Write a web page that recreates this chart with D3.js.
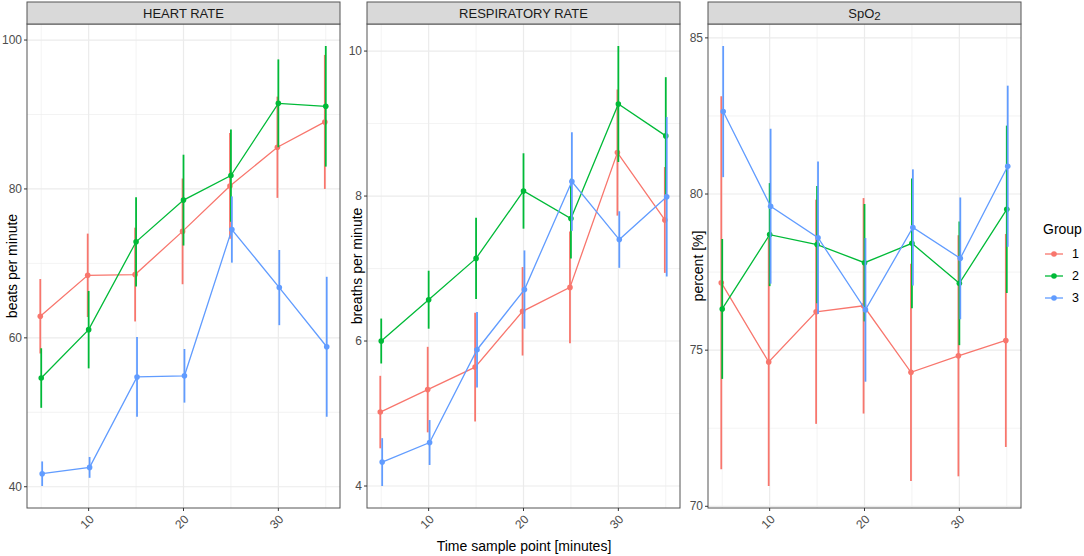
<!DOCTYPE html>
<html>
<head>
<meta charset="utf-8">
<script src="https://cdn.jsdelivr.net/npm/d3@7"></script>
<style>
  body { margin: 0; background: #fff; }
  svg { font-family: "Liberation Sans", Arial, sans-serif; }
</style>
</head>
<body>
<svg id="chart" width="1084" height="556"></svg>
<script>
// time points and groups
var times = [5, 10, 15, 20, 25, 30, 35];
var groups = ["1", "2", "3"];
var xTicks = [10, 20, 30];

// heart rate, one row per group
var hrMean = [
  [62.9, 68.4, 68.5, 74.3, 80.4, 85.6, 89.0],
  [54.6, 61.1, 72.9, 78.5, 81.8, 91.5, 91.1],
  [41.75, 42.6, 54.75, 54.9, 74.55, 66.75, 58.8]
];
var hrSd = [
  [5.0, 5.6, 6.3, 7.1, 7.1, 6.8, 9.0],
  [4.0, 5.2, 6.0, 6.1, 6.2, 5.9, 8.1],
  [1.65, 1.4, 5.35, 3.6, 4.45, 5.05, 9.4]
];

// respiratory rate
var rrMean = [
  [5.02, 5.33, 5.64, 6.41, 6.74, 8.60, 7.67],
  [6.00, 6.57, 7.14, 8.07, 7.69, 9.27, 8.83],
  [4.33, 4.60, 5.88, 6.71, 8.20, 7.40, 7.99]
];
var rrSd = [
  [0.50, 0.59, 0.75, 0.61, 0.77, 0.87, 0.73],
  [0.31, 0.40, 0.56, 0.52, 0.55, 0.80, 0.81],
  [0.33, 0.31, 0.52, 0.54, 0.68, 0.39, 1.10]
];

// SpO2
var spMean = [
  [77.16, 74.62, 76.23, 76.42, 74.29, 74.82, 75.31],
  [76.32, 78.70, 78.38, 77.80, 78.42, 77.14, 79.51],
  [82.64, 79.61, 78.60, 76.29, 78.93, 77.94, 80.89]
];
var spSd = [
  [5.97, 3.97, 3.59, 3.45, 3.48, 3.86, 3.41],
  [2.24, 1.65, 1.88, 1.88, 2.08, 1.98, 2.68],
  [2.10, 2.48, 2.44, 2.30, 1.86, 1.95, 2.58]
];

var color = d3.scaleOrdinal()
    .domain(groups)
    .range(["#F8766D", "#00BA38", "#619CFF"]);

var panels = [
  {title: "HEART RATE", ylab: "beats per minute", mean: hrMean, sd: hrSd, x0: 27, x1: 340, ylabX: 12},
  {title: "RESPIRATORY RATE", ylab: "breaths per minute", mean: rrMean, sd: rrSd, x0: 367, x1: 680, ylabX: 357},
  {title: "SpO2", ylab: "percent [%]", mean: spMean, sd: spSd, x0: 708, x1: 1021, ylabX: 698}
];

var stripTop = 2, panelTop = 24, panelBottom = 508;
var dodge = [-0.1, 0, 0.1];

var svg = d3.select("#chart");

panels.forEach(function(p) {
  // build rows for this panel
  var rows = [];
  groups.forEach(function(g, gi) {
    times.forEach(function(t, ti) {
      var m = p.mean[gi][ti], s = p.sd[gi][ti];
      rows.push({group: g, gi: gi, time: t, mean: m, lo: m - s, hi: m + s});
    });
  });

  // ggplot style 5% expansion
  var lo = d3.min(rows, d => d.lo), hi = d3.max(rows, d => d.hi);
  var pad = (hi - lo) * 0.05;
  var y = d3.scaleLinear().domain([lo - pad, hi + pad]).range([panelBottom, panelTop]);
  var x = d3.scaleLinear().domain([3.5, 36.5]).range([p.x0, p.x1]);

  var yTicks = y.ticks(4);
  var step = yTicks[1] - yTicks[0];
  var yMinor = yTicks.map(v => v + step / 2).filter(v => v < y.domain()[1]);
  var xMinor = times.filter(t => xTicks.indexOf(t) < 0);

  var g = svg.append("g");

  // grid
  g.selectAll(".ymin").data(yMinor).enter().append("line")
      .attr("x1", p.x0).attr("x2", p.x1)
      .attr("y1", d => y(d)).attr("y2", d => y(d))
      .attr("stroke", "#EBEBEB").attr("stroke-width", 0.6);
  g.selectAll(".xmin").data(xMinor).enter().append("line")
      .attr("y1", panelTop).attr("y2", panelBottom)
      .attr("x1", d => x(d)).attr("x2", d => x(d))
      .attr("stroke", "#EBEBEB").attr("stroke-width", 0.6);
  g.selectAll(".ymaj").data(yTicks).enter().append("line")
      .attr("x1", p.x0).attr("x2", p.x1)
      .attr("y1", d => y(d)).attr("y2", d => y(d))
      .attr("stroke", "#EBEBEB").attr("stroke-width", 1.2);
  g.selectAll(".xmaj").data(xTicks).enter().append("line")
      .attr("y1", panelTop).attr("y2", panelBottom)
      .attr("x1", d => x(d)).attr("x2", d => x(d))
      .attr("stroke", "#EBEBEB").attr("stroke-width", 1.2);

  var line = d3.line()
      .x(d => x(d.time + dodge[d.gi]))
      .y(d => y(d.mean));

  // each group: line, error bars, points
  groups.forEach(function(grp, gi) {
    var data = rows.filter(d => d.gi === gi);
    g.append("path")
        .datum(data)
        .attr("d", line)
        .attr("fill", "none")
        .attr("stroke", color(grp))
        .attr("stroke-width", 1.3);
    g.selectAll(".bar" + gi).data(data).enter().append("line")
        .attr("x1", d => x(d.time + dodge[gi])).attr("x2", d => x(d.time + dodge[gi]))
        .attr("y1", d => y(d.lo)).attr("y2", d => y(d.hi))
        .attr("stroke", color(grp))
        .attr("stroke-width", 1.8);
    g.selectAll(".pt" + gi).data(data).enter().append("circle")
        .attr("cx", d => x(d.time + dodge[gi]))
        .attr("cy", d => y(d.mean))
        .attr("r", 2.8)
        .attr("fill", color(grp));
  });

  // panel border
  g.append("rect")
      .attr("x", p.x0).attr("y", panelTop)
      .attr("width", p.x1 - p.x0).attr("height", panelBottom - panelTop)
      .attr("fill", "none").attr("stroke", "#555").attr("stroke-width", 1);

  // strip
  g.append("rect")
      .attr("x", p.x0).attr("y", stripTop)
      .attr("width", p.x1 - p.x0).attr("height", panelTop - stripTop)
      .attr("fill", "#D9D9D9").attr("stroke", "#555").attr("stroke-width", 1);
  var st = g.append("text")
      .attr("x", (p.x0 + p.x1) / 2)
      .attr("y", (stripTop + panelTop) / 2)
      .attr("dy", "0.36em")
      .attr("text-anchor", "middle")
      .attr("font-size", 13)
      .attr("fill", "#1A1A1A");
  if (p.title === "SpO2") {
    st.append("tspan").text("SpO");
    st.append("tspan").attr("dy", 2.5).attr("font-size", 11.5).text("2");
  } else {
    st.text(p.title);
  }

  // y axis
  g.selectAll(".ytk").data(yTicks).enter().append("line")
      .attr("x1", p.x0 - 3).attr("x2", p.x0)
      .attr("y1", d => y(d)).attr("y2", d => y(d))
      .attr("stroke", "#333");
  g.selectAll(".ylab").data(yTicks).enter().append("text")
      .attr("x", p.x0 - 5)
      .attr("y", d => y(d))
      .attr("dy", "0.35em")
      .attr("text-anchor", "end")
      .attr("font-size", 12)
      .attr("fill", "#4D4D4D")
      .text(d => d);

  // x axis
  g.selectAll(".xtk").data(xTicks).enter().append("line")
      .attr("x1", d => x(d)).attr("x2", d => x(d))
      .attr("y1", panelBottom).attr("y2", panelBottom + 3)
      .attr("stroke", "#333");
  g.selectAll(".xlab").data(xTicks).enter().append("text")
      .attr("transform", d => "translate(" + (x(d) + 3) + "," + (panelBottom + 9) + ") rotate(-45)")
      .attr("dy", "0.35em")
      .attr("text-anchor", "end")
      .attr("font-size", 12)
      .attr("fill", "#4D4D4D")
      .text(d => d);

  // y title
  g.append("text")
      .attr("transform", "translate(" + p.ylabX + "," + ((panelTop + panelBottom) / 2) + ") rotate(-90)")
      .attr("dy", "0.35em")
      .attr("text-anchor", "middle")
      .attr("font-size", 14)
      .attr("fill", "#000")
      .text(p.ylab);
});

// shared x title
svg.append("text")
    .attr("x", 524)
    .attr("y", 551)
    .attr("text-anchor", "middle")
    .attr("font-size", 14)
    .attr("fill", "#000")
    .text("Time sample point [minutes]");

// legend
var legend = svg.append("g").attr("transform", "translate(1043,0)");
legend.append("text")
    .attr("x", 0).attr("y", 234)
    .attr("font-size", 14)
    .text("Group");
var item = legend.selectAll(".item").data(groups).enter().append("g")
    .attr("transform", (d, i) => "translate(0," + (254 + i * 22) + ")");
item.append("line")
    .attr("x1", 2).attr("x2", 20)
    .attr("stroke", d => color(d)).attr("stroke-width", 1.3);
item.append("circle")
    .attr("cx", 11).attr("r", 2.8)
    .attr("fill", d => color(d));
item.append("text")
    .attr("x", 29).attr("dy", "0.35em")
    .attr("font-size", 12.5)
    .text(d => d);
</script>
</body>
</html>
